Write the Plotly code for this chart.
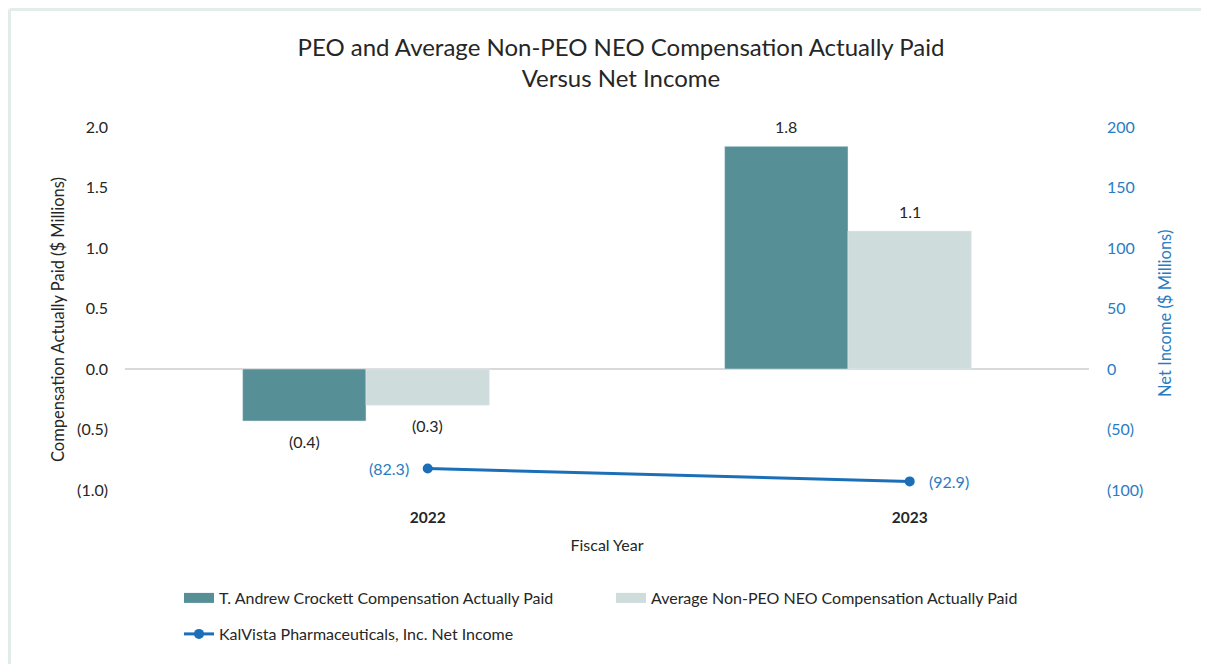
import plotly.graph_objects as go

years = ["2022", "2023"]
peo_cap = [-0.43, 1.84]
neo_cap = [-0.30, 1.14]
net_income = [-82.3, -92.9]

peo_name = "T. Andrew Crockett Compensation Actually Paid"
neo_name = "Average Non-PEO NEO Compensation Actually Paid"
ni_name = "KalVista Pharmaceuticals, Inc. Net Income"

left_ticks = [-1.0, -0.5, 0.0, 0.5, 1.0, 1.5, 2.0]
right_ticks = [-100, -50, 0, 50, 100, 150, 200]


def fmt(v, d=1):
    return f"({abs(v):.{d}f})" if v < 0 else f"{v:.{d}f}"


PEO_C = "#568F96"
NEO_C = "#CEDCDC"
NI_C = "#1B6FB8"
NI_TXT = "#2A7CC2"
TXT = "#262626"
FONT = "Lato"

BW = 0.256               # bar width (category units)
OFFS = [-0.384, -0.128]  # bar offsets relative to category position
XSHIFT = 0.128           # category axis shift
NI_SIDE = ["left", "right"]

# page offset (body margin) and figure geometry
OFF = 8
W, H = 1201, 656
L, R, T, B = 117, 120, 119, 174
pw, ph = W - L - R, H - T - B


def px_x(p):
    return (p - OFF - L) / pw


def px_y(p):
    return (H - B - (p - OFF)) / ph


fig = go.Figure()
for vals, name, col, off in [(peo_cap, peo_name, PEO_C, OFFS[0]),
                             (neo_cap, neo_name, NEO_C, OFFS[1])]:
    fig.add_trace(go.Bar(x=years, y=vals, name=name, marker_color=col,
                         width=[BW] * len(vals), offset=[off] * len(vals),
                         showlegend=False))
fig.add_trace(go.Scatter(x=years, y=net_income, name=ni_name, yaxis="y2",
                         mode="lines+markers",
                         line=dict(color=NI_C, width=3),
                         marker=dict(color=NI_C, size=10),
                         cliponaxis=False, legend="legend2"))
# legend swatches
fig.add_trace(go.Scatter(x=[None], y=[None], mode="lines", name=peo_name,
                         line=dict(color=PEO_C, width=12), legend="legend"))
fig.add_trace(go.Scatter(x=[None], y=[None], mode="lines", name=neo_name,
                         line=dict(color=NEO_C, width=12), legend="legend"))

annotations = []
for vals, off in [(peo_cap, OFFS[0]), (neo_cap, OFFS[1])]:
    for i, v in enumerate(vals):
        annotations.append(dict(x=i + off + BW / 2, y=v, xref="x", yref="y",
                                text=fmt(v), showarrow=False,
                                yshift=20 if v >= 0 else -20,
                                font=dict(size=16, color=TXT)))
for i, v in enumerate(net_income):
    left = NI_SIDE[i] == "left"
    annotations.append(dict(x=i, y=v, xref="x", yref="y2", text=fmt(v),
                            showarrow=False, xanchor="right" if left else "left",
                            xshift=-17 if left else 17,
                            font=dict(size=16, color=NI_TXT)))
# axis titles
annotations.append(dict(text="Compensation Actually Paid ($ Millions)", textangle=-90,
                        x=px_x(58), y=px_y(320), xref="paper", yref="paper",
                        xanchor="center", yanchor="middle",
                        showarrow=False, font=dict(size=16.5, color=TXT)))
annotations.append(dict(text="Net Income ($ Millions)", textangle=-90,
                        x=px_x(1165), y=px_y(314), xref="paper", yref="paper",
                        xanchor="center", yanchor="middle",
                        showarrow=False, font=dict(size=16.5, color=NI_TXT)))

fig.update_layout(
    width=W, height=H,
    margin=dict(l=L, r=R, t=T, b=B),
    paper_bgcolor="white", plot_bgcolor="white",
    font=dict(family=FONT, size=16, color=TXT),
    title=dict(text="PEO and Average Non-PEO NEO Compensation Actually Paid<br>Versus Net Income",
               x=px_x(617), xanchor="center", y=1 - (55.5 - OFF) / H, yanchor="middle",
               font=dict(size=24, color=TXT)),
    barmode="overlay",
    xaxis=dict(type="category", range=[-0.5 - XSHIFT, len(years) - 0.5 - XSHIFT],
               showgrid=False, showline=False, ticks="",
               tickfont=dict(size=15.5, color=TXT, weight="bold"),
               ticklabelstandoff=16,
               title=dict(text="Fiscal Year", standoff=15, font=dict(size=16, color=TXT))),
    yaxis=dict(range=[-1, 2], tickvals=left_ticks,
               ticktext=[fmt(v) for v in left_ticks],
               showgrid=False, zeroline=True, zerolinecolor="#D9D9D9", zerolinewidth=2,
               showline=False, ticklabelstandoff=16,
               tickfont=dict(size=16, color=TXT)),
    yaxis2=dict(range=[-100, 200], overlaying="y", side="right",
                tickvals=right_ticks, ticktext=[fmt(v, 0) for v in right_ticks],
                tickfont=dict(size=16, color=NI_TXT), showgrid=False, zeroline=False,
                showline=False, ticklabelstandoff=17),
    legend=dict(orientation="h", x=px_x(179), xanchor="left", y=px_y(581), yanchor="top",
                entrywidth=387, entrywidthmode="pixels",
                font=dict(size=16, color=TXT), bgcolor="rgba(0,0,0,0)"),
    legend2=dict(orientation="h", x=px_x(179), xanchor="left", y=px_y(617), yanchor="top",
                 font=dict(size=16, color=TXT), bgcolor="rgba(0,0,0,0)"),
    annotations=annotations,
    shapes=[
        dict(type="line", xref="paper", yref="paper",
             x0=px_x(OFF + 1.5), x1=px_x(1300), y0=px_y(OFF + 1.5), y1=px_y(OFF + 1.5),
             line=dict(color="#E2EDEB", width=3), layer="below"),
        dict(type="line", xref="paper", yref="paper",
             x0=px_x(OFF + 1.5), x1=px_x(OFF + 1.5), y0=px_y(OFF + 1.5), y1=px_y(800),
             line=dict(color="#E2EDEB", width=3), layer="below"),
    ],
)

fig.write_html("out.html")
